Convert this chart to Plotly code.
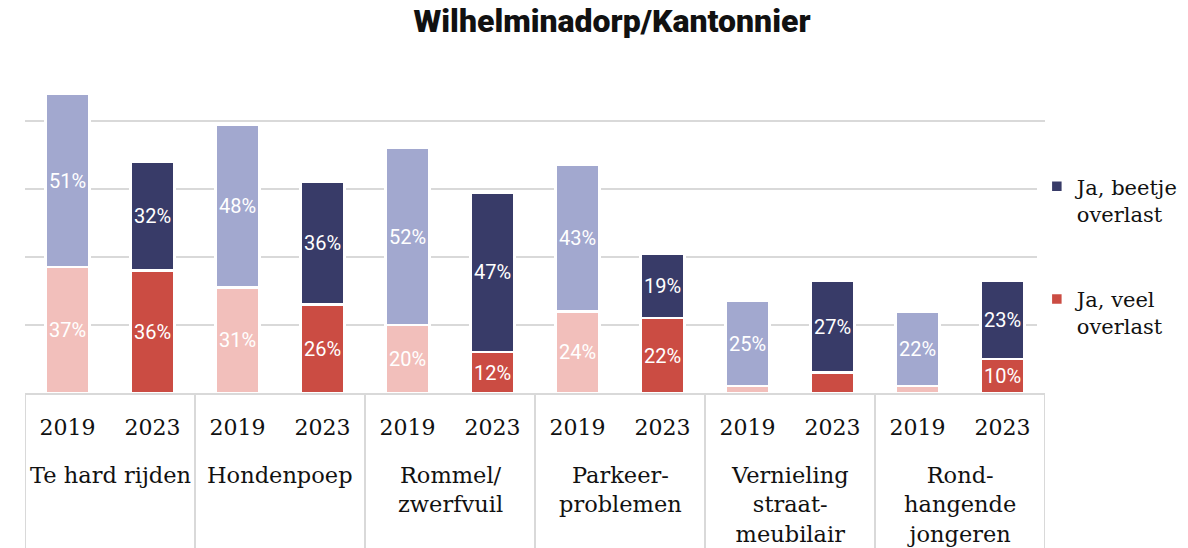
import plotly.graph_objects as go

# Nuisance categories (group labels) and survey years
categories = [
    "Te hard rijden",
    "Hondenpoep",
    "Rommel/<br>zwerfvuil",
    "Parkeer-<br>problemen",
    "Vernieling<br>straat-<br>meubilair",
    "Rond-<br>hangende<br>jongeren",
]
years = ["2019", "2023"]

# Share of residents (%) per category
veel_2019 = [37, 31, 20, 24, 2, 2]
veel_2023 = [36, 26, 12, 22, 6, 10]
beetje_2019 = [51, 48, 52, 43, 25, 22]
beetje_2023 = [32, 36, 47, 19, 27, 23]

title_text = "Wilhelminadorp/Kantonnier"
name_beetje = "Ja, beetje<br>overlast"
name_veel = "Ja, veel<br>overlast"

C_BEETJE_2019 = "#a2a8cf"
C_BEETJE_2023 = "#383b68"
C_VEEL_2019 = "#f2bfbb"
C_VEEL_2023 = "#cb4c43"
GRID = "#d9d9d9"
INK = "#111111"

SERIF = "DejaVu Serif"
SANS = "Roboto"

n_groups = len(categories)
n_years = len(years)
# one slot per (category, year); categories occupy consecutive pairs of slots
pos = {y: [g * n_years + j for g in range(n_groups)] for j, y in enumerate(years)}

# vertical extent of the label band below the axis, in paper units
PLOT_H = 548 - 53 - 155
BAND = 155 / PLOT_H


def labels(vals, min_show=10):
    return [f"{v}%" if v >= min_show else "" for v in vals]


def bar(vals, year, color, name, show, group, rank):
    return go.Bar(
        x=pos[year],
        y=vals,
        name=name,
        showlegend=show,
        legendgroup=group,
        legendrank=rank,
        marker=dict(color=color, line=dict(color="white", width=2.5)),
        text=labels(vals),
        textposition="inside",
        insidetextanchor="middle",
        textfont=dict(family=SANS, size=20, color="white"),
        constraintext="none",
        hoverinfo="skip",
    )


fig = go.Figure()
fig.add_trace(bar(veel_2019, "2019", C_VEEL_2019, name_veel, False, "veel", 2))
fig.add_trace(bar(veel_2023, "2023", C_VEEL_2023, name_veel, True, "veel", 2))
fig.add_trace(bar(beetje_2019, "2019", C_BEETJE_2019, name_beetje, False, "beetje", 1))
fig.add_trace(bar(beetje_2023, "2023", C_BEETJE_2023, name_beetje, True, "beetje", 1))

# category names beneath each pair of year labels
for g, name in enumerate(categories):
    fig.add_annotation(
        x=g * n_years + (n_years - 1) / 2,
        xref="x",
        y=-0.198,
        yref="paper",
        yanchor="top",
        text=name,
        showarrow=False,
        align="center",
        font=dict(family=SERIF, size=22.5, color=INK),
    )

# group dividers running down through the label band
for g in range(n_groups + 1):
    xd = g * n_years - 0.5
    fig.add_shape(
        type="line",
        xref="x",
        yref="paper",
        x0=xd,
        x1=xd,
        y0=0,
        y1=-BAND,
        line=dict(color=GRID, width=2),
    )

fig.update_layout(
    width=1188,
    height=548,
    barmode="stack",
    bargap=0.48,
    plot_bgcolor="white",
    paper_bgcolor="white",
    margin=dict(l=25, r=143, t=53, b=155, autoexpand=False),
    title=dict(
        text=title_text,
        x=(612 - 25) / 1020,
        xref="paper",
        xanchor="center",
        y=1 - 21 / 548,
        yanchor="middle",
        font=dict(family=SANS, size=32, weight=900, color=INK),
    ),
    legend=dict(
        x=0.992,
        xanchor="left",
        y=0.667,
        yanchor="top",
        traceorder="grouped",
        tracegroupgap=55,
        valign="top",
        font=dict(family=SERIF, size=21, color=INK),
        itemwidth=30,
    ),
    showlegend=True,
)

fig.update_xaxes(
    range=[-0.5, n_groups * n_years - 0.5],
    tickvals=pos[years[0]] + pos[years[1]],
    ticktext=[years[0]] * n_groups + [years[1]] * n_groups,
    tickfont=dict(family=SERIF, size=22, color=INK),
    ticks="outside",
    ticklen=14,
    tickcolor="rgba(0,0,0,0)",
    showline=True,
    linecolor=GRID,
    linewidth=2,
    showgrid=False,
    zeroline=False,
)
fig.update_yaxes(
    range=[0, 100],
    dtick=20,
    showgrid=True,
    gridcolor=GRID,
    gridwidth=2,
    showticklabels=False,
    zeroline=False,
    ticks="",
)

fig.write_html("out.html")
